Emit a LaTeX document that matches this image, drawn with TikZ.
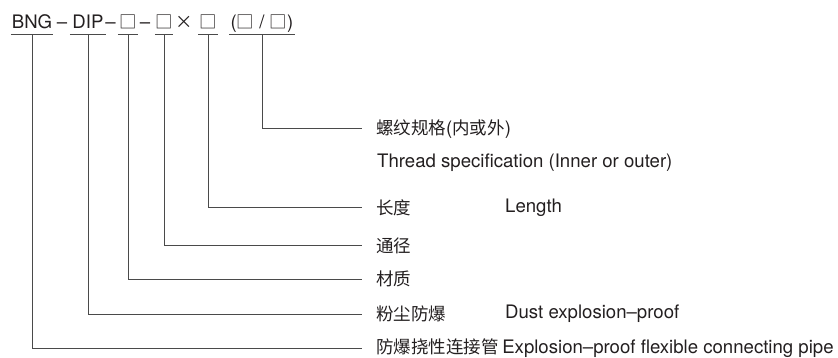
\documentclass[tikz,border=0pt]{standalone}
\usepackage{fontspec}
\setmainfont{TeX Gyre Heros}
\newfontfamily\cjk[Scale=0.94]{Noto Sans CJK SC}
\usetikzlibrary{positioning}
\definecolor{inkgray}{HTML}{231F20}
\definecolor{linegray}{HTML}{4A4A4A}

\begin{document}
\begin{tikzpicture}[x=1pt,y=-1pt,
  every node/.style={text=inkgray,font=\fontsize{18.6}{22}\selectfont},
  part/.style={anchor=south,inner xsep=0pt,inner ysep=6pt,text depth=0pt},
  sep/.style={anchor=base,inner sep=0pt},
  lbl/.style={anchor=west,inner xsep=14pt,inner ysep=0pt},
  eng/.style={anchor=west,inner sep=0pt},
  line/.style={draw=linegray,line width=1pt}]
\useasboundingbox (0,0) rectangle (838,358);

% model code
\node[part,minimum width=42pt] (bng) at (32,35) {BNG};
\node[sep] (d1) at (62,29) {–};
\node[part,minimum width=36pt] (dip) at (88,35) {DIP};
\node[sep] (d2) at (110.5,29) {–};
\node[part,minimum width=20pt] (mat) at (128,35) {\cjk □};
\node[sep] (d3) at (145,29) {–};
\node[part,minimum width=18pt] (dia) at (164,35) {\cjk □};
\node[sep] (x1) at (184,29) {\cjk ×};
\node[part,minimum width=19pt] (len) at (208,35) {\cjk □};
\node[part,minimum width=65pt] (thr) at (262,35) {({\cjk □} / {\cjk □})};

\foreach \p in {bng,dip,mat,dia,len,thr}
  \draw[line] (\p.south west) -- (\p.south east);

% labels
\node[lbl] (lthr) at (362,129) {{\cjk 螺纹规格}({\cjk 内或外})};
\node[eng] (ethr) at (377,163) {Thread specification (Inner or outer)};
\node[lbl] (llen) at (362,208) {\cjk 长度};
\node[eng] (elen) at (505,208) {Length};
\node[lbl] (ldia) at (362,246) {\cjk 通径};
\node[lbl] (lmat) at (362,279) {\cjk 材质};
\node[lbl] (ldip) at (362,314) {\cjk 粉尘防爆};
\node[eng] (edip) at (505,314) {Dust explosion–proof};
\node[lbl] (lbng) at (362,348) {{\cjk 防爆挠性连接管}\hspace{0.2em}Explosion–proof flexible connecting pipe};

\draw[line] (thr.south) |- (lthr.west);
\draw[line] (len.south) |- (llen.west);
\draw[line] (dia.south) |- (ldia.west);
\draw[line] (mat.south) |- (lmat.west);
\draw[line] (dip.south) |- (ldip.west);
\draw[line] (bng.south) |- (lbng.west);

\end{tikzpicture}
\end{document}
